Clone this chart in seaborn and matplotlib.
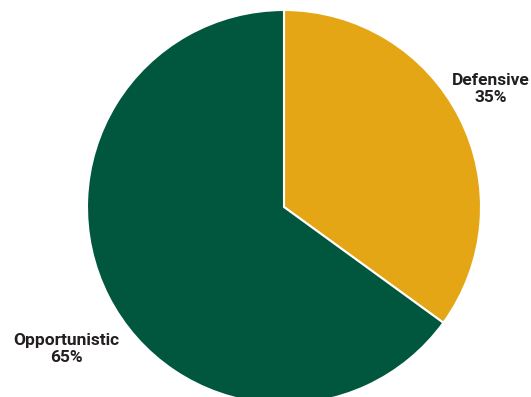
import matplotlib
matplotlib.use("Agg")
import matplotlib.pyplot as plt
import seaborn as sns

# data
categories = ["Defensive", "Opportunistic"]
shares = [35, 65]
colors = ["#E5A615", "#00573D"]

sns.set_style("white")
plt.rcParams['font.family'] = ['Roboto', 'DejaVu Sans']

fig = plt.figure(figsize=(5.31, 3.97), dpi=100)
ax = fig.add_axes([0, 0, 1, 1])

# pie drawn in pixel-like data units
ax.pie(shares, colors=colors, startangle=90, counterclock=False,
       center=(284, 190), radius=197,
       wedgeprops=dict(edgecolor="white", linewidth=1.5))
ax.set_xlim(0, 531)
ax.set_ylim(0, 397)
ax.set_aspect("equal")
ax.axis("off")

label_pos = [(491, 308), (66, 48)]
for cat, val, (x, y) in zip(categories, shares, label_pos):
    ax.text(x, y, f"{cat}\n{val}%", ha="center", va="center",
            fontsize=12.5, fontweight="bold", color="#231F20", linespacing=1.2)

fig.savefig("out.png", dpi=100)
